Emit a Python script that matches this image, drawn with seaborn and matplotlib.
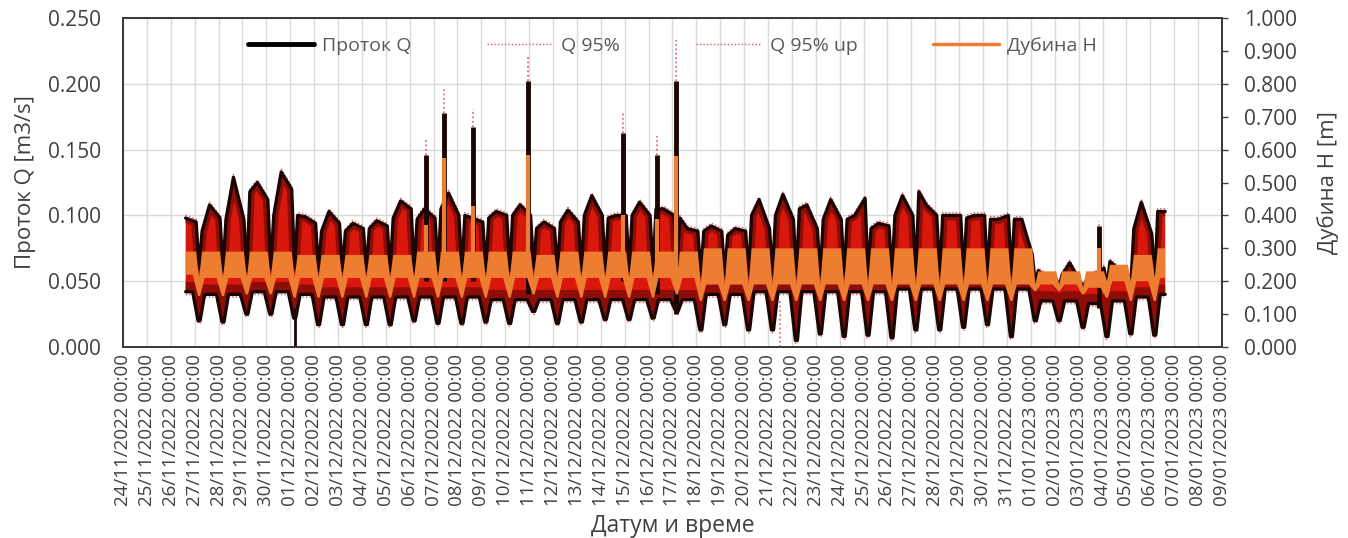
import numpy as np
import pandas as pd
import matplotlib
matplotlib.use("Agg")
import matplotlib.pyplot as plt
import matplotlib.dates as mdates
from matplotlib.lines import Line2D
from matplotlib.transforms import offset_copy
import seaborn as sns

nan = np.nan

# one hump per day (Q in m3/s, H in m)
days = pd.date_range("2022-11-26", "2023-01-06", freq="D")

# night trough of Q (about 04:30)
q_trough = [nan, 0.020, 0.019, 0.025, 0.025, 0.022, 0.017, 0.017, 0.017, 0.017,
            0.020, 0.018, 0.018, 0.019, 0.018, 0.027, 0.018, 0.019, 0.021, 0.021,
            0.022, 0.027, 0.013, 0.017, 0.013, 0.013, 0.005, 0.010, 0.008, 0.009,
            0.007, 0.013, 0.013, 0.015, 0.017, 0.008, 0.020, 0.020, 0.015, 0.008,
            0.010, 0.009]
# upper edge of Q at the night trough
q_night_hi = [nan, 0.060, 0.058, 0.058, 0.060, 0.060, 0.058, 0.058, 0.058, 0.058,
              0.058, 0.058, 0.058, 0.058, 0.058, 0.060, 0.058, 0.058, 0.058, 0.058,
              0.058, 0.062, 0.055, 0.055, 0.055, 0.055, 0.055, 0.055, 0.055, 0.055,
              0.055, 0.055, 0.055, 0.055, 0.055, 0.055, 0.048, 0.046, 0.046, 0.046,
              0.048, 0.050]
# upper edge of Q in the morning, afternoon and late evening
q_early = [nan, 0.088, 0.097, 0.118, 0.100, 0.100, 0.088, 0.088, 0.090, 0.098,
           0.097, 0.105, 0.100, 0.098, 0.100, 0.090, 0.095, 0.100, 0.098, 0.100,
           0.105, 0.098, 0.088, 0.085, 0.100, 0.100, 0.105, 0.097, 0.097, 0.090,
           0.100, 0.118, 0.100, 0.098, 0.097, 0.097, 0.058, 0.055, 0.050, 0.065,
           0.090, 0.103]
q_peak = [0.098, 0.108, 0.129, 0.125, 0.133, 0.099, 0.103, 0.094, 0.096, 0.111,
          0.105, 0.117, 0.098, 0.103, 0.108, 0.095, 0.104, 0.115, 0.100, 0.110,
          0.105, 0.090, 0.092, 0.090, 0.112, 0.116, 0.108, 0.112, 0.100, 0.094,
          0.115, 0.108, 0.100, 0.100, 0.097, 0.097, 0.054, 0.064, 0.055, 0.060,
          0.110, 0.103]
q_late = [0.095, 0.098, 0.097, 0.112, 0.120, 0.094, 0.094, 0.090, 0.092, 0.105,
          0.098, 0.100, 0.095, 0.100, 0.100, 0.090, 0.095, 0.100, 0.100, 0.100,
          0.100, 0.088, 0.088, 0.088, 0.090, 0.097, 0.090, 0.097, 0.113, 0.092,
          0.100, 0.100, 0.100, 0.100, 0.100, 0.070, 0.052, 0.050, 0.060, 0.055,
          0.086, nan]
# lower edge of Q during the day
q_day_low = [0.042, 0.040, 0.040, 0.042, 0.042, 0.040, 0.038, 0.038, 0.038, 0.038,
             0.038, 0.038, 0.038, 0.036, 0.036, 0.036, 0.036, 0.036, 0.036, 0.036,
             0.036, 0.036, 0.040, 0.040, 0.042, 0.042, 0.042, 0.042, 0.042, 0.042,
             0.044, 0.044, 0.044, 0.044, 0.044, 0.044, 0.035, 0.035, 0.033, 0.035,
             0.038, 0.040]

# depth H band (right axis)
h_top = [0.29, 0.29, 0.29, 0.29, 0.29, 0.28, 0.28, 0.28, 0.28, 0.28,
         0.29, 0.29, 0.29, 0.29, 0.29, 0.28, 0.29, 0.29, 0.29, 0.29,
         0.29, 0.29, 0.30, 0.30, 0.30, 0.30, 0.30, 0.30, 0.30, 0.30,
         0.30, 0.30, 0.30, 0.30, 0.30, 0.30, 0.23, 0.23, 0.23, 0.25,
         0.28, 0.30]
h_bot = [0.22, 0.21, 0.21, 0.21, 0.21, 0.21, 0.21, 0.21, 0.21, 0.21,
         0.21, 0.21, 0.21, 0.21, 0.21, 0.21, 0.21, 0.21, 0.21, 0.21,
         0.21, 0.21, 0.19, 0.19, 0.19, 0.19, 0.19, 0.19, 0.19, 0.19,
         0.19, 0.19, 0.19, 0.19, 0.19, 0.19, 0.19, 0.19, 0.18, 0.20,
         0.20, 0.21]
h_night = [nan, 0.155, 0.155, 0.16, 0.16, 0.15, 0.15, 0.15, 0.15, 0.15,
           0.15, 0.15, 0.15, 0.15, 0.15, 0.16, 0.15, 0.15, 0.15, 0.15,
           0.15, 0.16, 0.14, 0.14, 0.14, 0.14, 0.14, 0.14, 0.14, 0.14,
           0.14, 0.14, 0.14, 0.14, 0.14, 0.14, 0.17, 0.17, 0.16, 0.15,
           0.14, 0.14]

# short peaks
spike_time = ["2022-12-06 16:00", "2022-12-07 11:00", "2022-12-08 15:30", "2022-12-10 22:40",
              "2022-12-14 22:40", "2022-12-16 08:40", "2022-12-17 03:10", "2023-01-03 20:30"]
spike_low = [0.050, 0.050, 0.050, 0.040, 0.050, 0.040, 0.025, 0.030]
spike_q = [0.146, 0.178, 0.167, 0.202, 0.163, 0.146, 0.202, 0.092]
spike_tip = [0.159, 0.196, 0.181, 0.222, 0.178, 0.160, 0.233, 0.096]
spike_h_low = [0.25, 0.25, 0.25, 0.22, 0.25, 0.22, 0.20, 0.20]
spike_h = [0.37, 0.575, 0.43, 0.585, 0.40, 0.39, 0.58, 0.30]

# drop-outs to zero
drop_time = ["2022-12-01 05:15", "2022-12-21 12:00"]
drop_from = [0.030, 0.035]
drop_to = [0.0, 0.0]

# hours of the day where the daily readings sit
UPPER_H = [4.5, 7.5, 15.0, 25.5]
LOWER_H = [3.5, 5.5, 10.0, 15.0, 22.0]


def series(hours, cols):
    rows = []
    for i, day in enumerate(days):
        for hr, col in zip(hours, cols):
            rows.append((day + pd.Timedelta(hours=hr), col[i]))
    return pd.DataFrame(rows, columns=["t", "v"]).dropna().reset_index(drop=True)


q_up = series(UPPER_H, [q_night_hi, q_early, q_peak, q_late])
q_dn = series(LOWER_H, [q_trough, q_trough, q_day_low, q_day_low, q_day_low])
h_up = series(UPPER_H, [h_bot, h_top, h_top, h_top])
h_dn = series(LOWER_H, [h_night, h_night, h_bot, h_bot, h_bot])
t0, t1 = q_up["t"].iloc[0], q_up["t"].iloc[-1]


def clip(s):
    return s[(s["t"] >= t0) & (s["t"] <= t1)]


q_dn, h_up, h_dn = clip(q_dn), clip(h_up), clip(h_dn)


def band(a, up, dn, **kw):
    x = np.concatenate([mdates.date2num(up["t"]), mdates.date2num(dn["t"])[::-1]])
    y = np.concatenate([up["v"].to_numpy(), dn["v"].to_numpy()[::-1]])
    return a.fill(x, y, **kw)[0]


BLACK = "#1c0604"
RED = "#d9170d"
DARK = "#8e0d07"
PINK = "#e4575f"
ORANGE = "#ed7d31"
GRID = "#d9d9d9"
TXT = "#404040"

sns.set_style("whitegrid")
plt.rcParams["font.family"] = ["Open Sans", "DejaVu Sans"]

fig, ax = plt.subplots(figsize=(13.48, 5.38), dpi=100)
fig.subplots_adjust(left=0.0912, right=0.9065, bottom=0.355, top=0.9665)
ax2 = ax.twinx()

# Q and its 95% bounds
poly = band(ax, q_up, q_dn, color=RED, lw=0, zorder=2)
for s, w in ((q_dn, 14), (q_up, 7)):
    shade, = ax.plot(s["t"], s["v"], color=DARK, lw=w, zorder=2.5, solid_joinstyle="round")
    shade.set_clip_path(poly)
up = offset_copy(ax.transData, fig=fig, y=2.0, units="points")
down = offset_copy(ax.transData, fig=fig, y=-2.0, units="points")
ax.plot(q_up["t"], q_up["v"], color=PINK, lw=1.0, ls=(0, (1, 1.5)), transform=up, zorder=2)
ax.plot(q_dn["t"], q_dn["v"], color=PINK, lw=1.0, ls=(0, (1, 1.5)), transform=down, zorder=2)
sns.lineplot(data=q_up, x="t", y="v", ax=ax, color=BLACK, lw=2.4, legend=False, zorder=3)
sns.lineplot(data=q_dn, x="t", y="v", ax=ax, color=BLACK, lw=2.4, legend=False, zorder=3)

st = pd.to_datetime(spike_time)
ax.vlines(st, spike_low, spike_q, color=BLACK, lw=3.5, zorder=4)
ax.vlines(st, spike_q, spike_tip, color=PINK, lw=1.2, linestyles="dotted", zorder=4)
dt = pd.to_datetime(drop_time)
ax.vlines(dt[:1], drop_to[:1], drop_from[:1], color=BLACK, lw=2.0, zorder=4)
ax.vlines(dt[1:], drop_to[1:], drop_from[1:], color=PINK, lw=1.2, linestyles="dotted", zorder=4)

# depth H
band(ax2, h_up, h_dn, color=ORANGE, lw=0, zorder=2)
ax2.vlines(st, spike_h_low, spike_h, color=ORANGE, lw=3.0, zorder=3)

ax.set_xlim(pd.Timestamp("2022-11-24"), pd.Timestamp("2023-01-09"))
ax.set_ylim(0, 0.25)
ax2.set_ylim(0, 1.0)
ax.set_yticks(np.arange(0, 0.2501, 0.05))
ax2.set_yticks(np.arange(0, 1.0001, 0.1))
ax.yaxis.set_major_formatter(plt.FuncFormatter(lambda v, p: f"{v:.3f}"))
ax2.yaxis.set_major_formatter(plt.FuncFormatter(lambda v, p: f"{v:.3f}"))
ax.xaxis.set_major_locator(mdates.DayLocator())
ax.xaxis.set_major_formatter(mdates.DateFormatter("%d/%m/%Y %H:%M"))

ax.grid(True, color=GRID, lw=1.0)
ax2.grid(False)
ax.set_axisbelow(True)

ax.tick_params(axis="x", rotation=90, labelsize=13.5, colors=TXT, length=0, pad=5)
ax.tick_params(axis="y", labelsize=15, colors=TXT, length=0, pad=16)
ax2.tick_params(axis="y", labelsize=15, colors=TXT, length=4, width=1, direction="out", pad=12)

for a in (ax, ax2):
    for s in a.spines.values():
        s.set_color("#3a3a3a")
        s.set_linewidth(1.3)

ax.set_xlabel("Датум и време", fontsize=16.5, color=TXT, labelpad=6)
ax.set_ylabel("Проток Q [m3/s]", fontsize=16, color=TXT, labelpad=8)
ax2.set_ylabel("Дубина H [m]", fontsize=16, color=TXT, labelpad=14)

handles = [Line2D([], [], color="black", lw=3.5),
           Line2D([], [], color=PINK, lw=1.0, ls=(0, (1, 1.5))),
           Line2D([], [], color=PINK, lw=1.0, ls=(0, (1, 1.5))),
           Line2D([], [], color=ORANGE, lw=2.5)]
labels = ["Проток Q", "Q 95%", "Q 95% up", "Дубина H"]
ax2.legend(handles, labels, loc="upper center", bbox_to_anchor=(0.5, 0.995), ncol=4,
           frameon=False, fontsize=14, labelcolor="#595959", handlelength=3.4,
           handletextpad=0.4, columnspacing=3.9)

fig.savefig("out.png", dpi=100)
